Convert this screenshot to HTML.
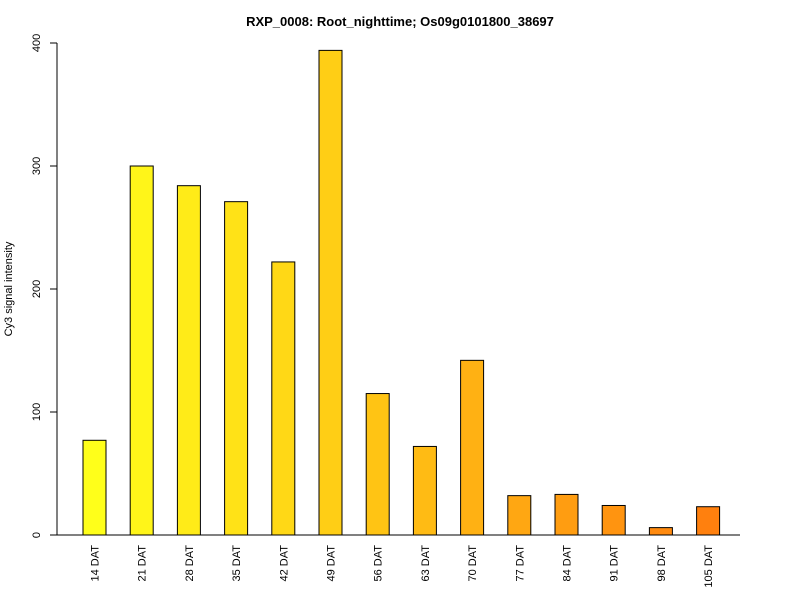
<!DOCTYPE html>
<html><head><meta charset="utf-8"><style>
body{margin:0;background:#fff;font-family:"Liberation Sans",sans-serif}
</style></head><body>
<svg id="chart" width="800" height="600" style="display:block">
<text x="400" y="26" text-anchor="middle" font-size="13" font-weight="bold">RXP_0008: Root_nighttime; Os09g0101800_38697</text>
<text transform="translate(12,289) rotate(-90)" text-anchor="middle" font-size="11">Cy3 signal intensity</text>
<g id="yaxis"></g>
<g id="bars"></g>
<g id="xlabels"></g>
<line x1="57" y1="535" x2="740" y2="535" stroke="#000"/>
</svg>
<script>
const categories=["14 DAT","21 DAT","28 DAT","35 DAT","42 DAT","49 DAT","56 DAT","63 DAT","70 DAT","77 DAT","84 DAT","91 DAT","98 DAT","105 DAT"];
const values=[77,300,284,271,222,394,115,72,142,32,33,24,6,23];
const yTicks=[0,100,200,300,400];
const NS="http://www.w3.org/2000/svg";
const y0=535,yScale=(535-43)/400;
function yPos(v){return y0-v*yScale;}
function xPos(i){return 83+i*47.2;}
const bw=23;
const ya=document.getElementById('yaxis');
function mk(tag,attrs,parent){const e=document.createElementNS(NS,tag);for(const k in attrs)e.setAttribute(k,attrs[k]);parent.appendChild(e);return e;}
const axl=mk('line',{x1:57,y1:yPos(0),x2:57,y2:yPos(400),stroke:'#000'},ya);


yTicks.forEach(t=>{
  const l=mk('line',{x1:50,x2:57,y1:yPos(t),y2:yPos(t),stroke:'#000'},ya);
  
  
  const tx=mk('text',{transform:`translate(40,${yPos(t)}) rotate(-90)`,'text-anchor':'middle','font-size':11},ya);
  tx.textContent=t;
  
  
});
const bg=document.getElementById('bars'),xl=document.getElementById('xlabels');
const n=categories.length;
values.forEach((v,i)=>{
  const f=i/(n-1);
  const g=Math.round(255-f*127),b=Math.round(26-f*12);
  const r=mk('rect',{x:xPos(i),y:yPos(v),width:bw,height:v*yScale,fill:`rgb(255,${g},${b})`,stroke:'#000','stroke-width':1},bg);
  
  
  const tx=mk('text',{transform:`translate(${xPos(i)+bw/2+4},545) rotate(-90)`,'text-anchor':'end','font-size':11},xl);
  tx.textContent=categories[i];
  
  
});
</script>
</body></html>
